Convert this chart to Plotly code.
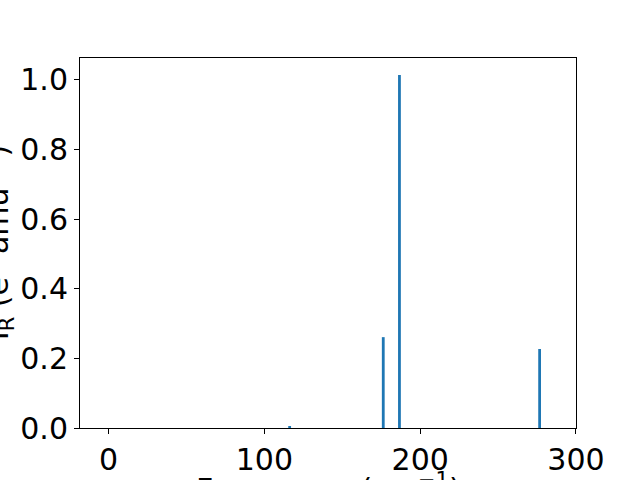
import plotly.graph_objects as go

freqs = [116.2, 176.3, 186.7, 276.7]
intensities = [0.005, 0.261, 1.014, 0.227]
x_ticks = [0, 100, 200, 300]
y_ticks = [0.0, 0.2, 0.4, 0.6, 0.8, 1.0]
x_label = "Frequency (cm<sup>−1</sup>)"
y_label = "I<sub>R</sub> (e<sup>2</sup> amu<sup>−1</sup>)"

font = dict(family="DejaVu Sans", size=30, color="black")

fig = go.Figure(go.Bar(x=freqs, y=intensities, width=1.8,
                       marker=dict(color="#1f77b4", line=dict(width=0))))

fig.update_layout(
    width=640, height=480,
    margin=dict(l=80, r=64, t=58, b=52, autoexpand=False),
    paper_bgcolor="white", plot_bgcolor="white",
    font=font, showlegend=False,
    xaxis=dict(range=[-18.4, 300.05], tickvals=x_ticks, ticktext=[str(v) for v in x_ticks],
               showline=True, mirror=True, linecolor="black", linewidth=1,
               ticks="outside", ticklen=5, tickcolor="black", showgrid=False, zeroline=False,
               tickfont=font, automargin=False),
    yaxis=dict(range=[0, 1.063], tickvals=y_ticks, ticktext=[f"{v:.1f}" for v in y_ticks],
               showline=True, mirror=True, linecolor="black", linewidth=1,
               ticks="outside", ticklen=5, tickcolor="black", showgrid=False, zeroline=False,
               tickfont=font, automargin=False),
    annotations=[
        dict(text=x_label, xref="paper", yref="paper", x=0.5, y=-0.162,
             xanchor="center", yanchor="middle", showarrow=False, font=font),
        dict(text=y_label, xref="paper", yref="paper", x=-0.167, y=0.5,
             xanchor="center", yanchor="middle", showarrow=False, font=font, textangle=-90),
    ],
)

fig.write_html("out.html", config={"displayModeBar": False},
               post_script="document.body.style.margin='0';document.body.style.overflow='hidden';")
